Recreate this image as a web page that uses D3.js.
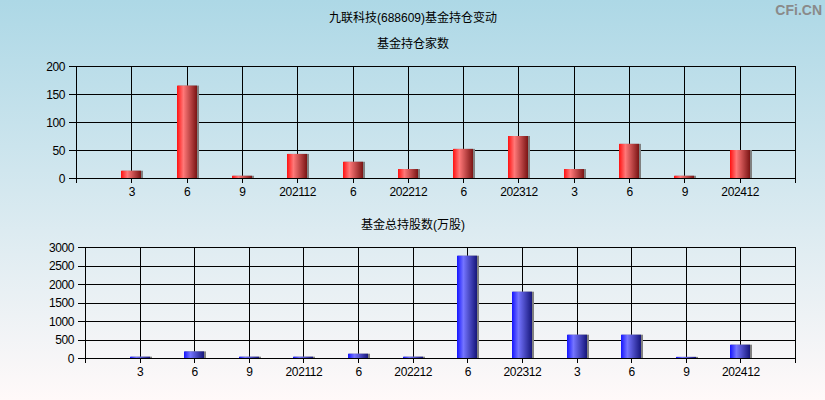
<!DOCTYPE html>
<html><head><meta charset="utf-8">
<script src="https://cdn.jsdelivr.net/npm/d3@7"></script>
<style>body{margin:0;padding:0;overflow:hidden}svg{display:block}</style>
</head><body>
<script>
const categories = ["3","6","9","202112","6","202212","6","202312","3","6","9","202412"];
const fundCount = [13,165,4,43,29,16,52,75,16,61,4,50];
const fundShares = [35,178,35,35,116,35,2765,1792,630,630,30,360];
const countTicks = [0,50,100,150,200];
const shareTicks = [0,500,1000,1500,2000,2500,3000];
const title = "九联科技(688609)基金持仓变动";
const sub1 = "基金持仓家数";
const sub2 = "基金总持股数(万股)";

const W = 825, H = 400;
const svg = d3.select("body").append("svg").attr("width", W).attr("height", H);
const defs = svg.append("defs");
const bg = defs.append("linearGradient").attr("id","bg").attr("x1",0).attr("y1",0).attr("x2",0).attr("y2",1);
bg.append("stop").attr("offset","0%").attr("stop-color","#add8e6");
bg.append("stop").attr("offset","100%").attr("stop-color","#fff9f9");
function barGrad(id, c0, c1, c2){
  const g = defs.append("linearGradient").attr("id",id).attr("x1",0).attr("y1",0).attr("x2",1).attr("y2",0);
  g.append("stop").attr("offset","0%").attr("stop-color",c0);
  g.append("stop").attr("offset","32%").attr("stop-color",c1);
  g.append("stop").attr("offset","100%").attr("stop-color",c2);
}
barGrad("gr","#ff1010","#ff7878","#7a1414");
barGrad("gb","#1414ff","#7474ff","#16167a");

svg.append("rect").attr("width",W).attr("height",H).attr("fill","url(#bg)");

const font = "'Liberation Sans', Arial, 'Noto Sans CJK SC', sans-serif";
svg.append("text").attr("x",413).attr("y",22).attr("text-anchor","middle")
  .attr("font-family",font).attr("font-size",12).attr("fill","#000").text(title);
svg.append("text").attr("x",822).attr("y",15).attr("text-anchor","end")
  .attr("font-family","'Liberation Sans', Arial, sans-serif").attr("font-weight","bold").attr("font-size",14).attr("fill","#8a8a8a").text("CFi.CN");

function panel(left, top, bottom, maxV, ticks, values, grad, subtitle, subY){
  const x = d3.scaleLinear().domain([0, categories.length + 1]).range([left, 795]);
  const y = d3.scaleLinear().domain([0, maxV]).range([bottom, top]);
  const g = svg.append("g");
  g.append("text").attr("x",413).attr("y",subY).attr("text-anchor","middle")
    .attr("font-family",font).attr("font-size",12).attr("fill","#000").text(subtitle);
  g.selectAll(".hg").data(ticks).enter().append("line")
    .attr("x1",left-7).attr("x2",795).attr("y1",d=>Math.round(y(d))+0.5).attr("y2",d=>Math.round(y(d))+0.5)
    .attr("stroke","#000").attr("stroke-width",1);
  const vx = d3.range(0, categories.length + 2);
  g.selectAll(".vg").data(vx).enter().append("line")
    .attr("x1",d=>Math.round(x(d))+0.5).attr("x2",d=>Math.round(x(d))+0.5)
    .attr("y1",top).attr("y2",bottom+5)
    .attr("stroke","#000").attr("stroke-width",1);
  g.selectAll(".yl").data(ticks).enter().append("text")
    .attr("x",left-11).attr("y",d=>y(d)+0.5).attr("dy","0.35em").attr("text-anchor","end")
    .attr("font-family",font).attr("font-size",12).attr("letter-spacing","-0.4px").attr("fill","#000").text(d=>d);
  const bw = 20;
  const bars = g.selectAll(".b").data(values).enter().append("g");
  bars.append("rect")
    .attr("x",(d,i)=>Math.round(x(i+1))-10+1).attr("width",bw+1)
    .attr("y",d=>y(d)).attr("height",d=>bottom-y(d))
    .attr("fill","#808080");
  bars.append("rect")
    .attr("x",(d,i)=>Math.round(x(i+1))-10).attr("width",bw)
    .attr("y",d=>y(d)).attr("height",d=>bottom-y(d))
    .attr("fill","url(#"+grad+")");
  g.selectAll(".xl").data(categories).enter().append("text")
    .attr("x",(d,i)=>x(i+1)+0.5).attr("y",bottom+14).attr("dy","0.35em").attr("text-anchor","middle")
    .attr("font-family",font).attr("font-size",12).attr("letter-spacing","-0.4px").attr("fill","#000").text(d=>d);
}
panel(76, 66, 178, 200, countTicks, fundCount, "gr", sub1, 48);
panel(85, 247, 358, 3000, shareTicks, fundShares, "gb", sub2, 229);
</script>
</body></html>
